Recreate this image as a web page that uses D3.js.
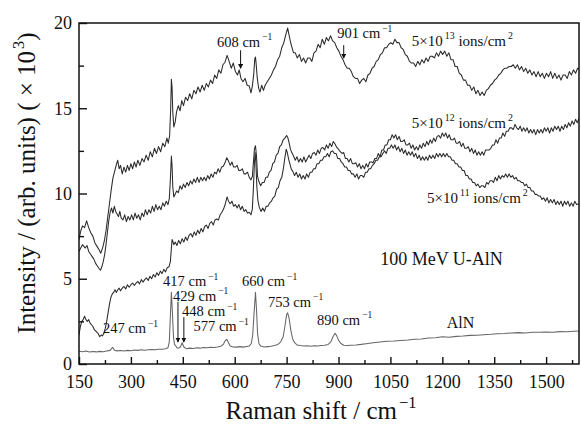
<!DOCTYPE html>
<html>
<head>
<meta charset="utf-8">
<script src="https://cdn.jsdelivr.net/npm/d3@7"></script>
<style>
  body { margin: 0; background: #fff; }
  svg text { font-family: "Liberation Serif", "Times New Roman", serif; fill: #111; }
</style>
</head>
<body>
<svg id="chart" width="581" height="426"></svg>
<script>
// Raman spectra, [wavenumber, intensity x10^3] pairs
let specAlN = [[150,0.75],[160,0.72],[170,0.76],[180,0.7],[190,0.73],[200,0.71],[210,0.74],[220,0.72],[230,0.76],[240,0.8],[247,0.98],[253,0.8],[260,0.77],[270,0.79],[280,0.76],[290,0.8],[300,0.78],[310,0.82],[320,0.8],[330,0.83],[340,0.81],[350,0.84],[360,0.85],[370,0.83],[380,0.86],[390,0.87],[400,0.9],[407,0.95],[411,1.3],[414,2.8],[417,4.2],[420,3.0],[423,1.6],[426,1.15],[429,1.08],[433,0.95],[438,0.93],[443,1.0],[448,1.25],[453,1.0],[460,0.9],[470,0.93],[480,0.91],[490,0.95],[500,0.93],[510,0.97],[520,0.95],[530,0.98],[540,0.97],[550,1.0],[560,1.04],[567,1.15],[572,1.35],[577,1.45],[582,1.25],[587,1.05],[595,1.0],[605,0.99],[615,1.02],[625,0.99],[635,1.03],[642,1.05],[648,1.2],[652,1.7],[656,3.0],[660,4.2],[663,3.2],[666,1.8],[670,1.2],[675,1.05],[685,1.0],[695,1.02],[705,1.04],[715,1.08],[725,1.15],[733,1.3],[740,1.6],[745,2.2],[750,2.9],[753,3.0],[757,2.7],[762,2.0],[767,1.5],[773,1.25],[780,1.12],[790,1.08],[800,1.05],[810,1.07],[820,1.04],[830,1.07],[840,1.05],[850,1.08],[860,1.1],[870,1.15],[878,1.3],[884,1.6],[890,1.8],[895,1.65],[900,1.4],[907,1.2],[915,1.1],[925,1.08],[935,1.1],[950,1.12],[965,1.15],[980,1.19],[1000,1.25],[1020,1.29],[1040,1.33],[1060,1.35],[1080,1.38],[1100,1.41],[1120,1.45],[1140,1.47],[1160,1.52],[1180,1.54],[1200,1.6],[1220,1.57],[1240,1.62],[1260,1.64],[1280,1.68],[1300,1.69],[1320,1.72],[1340,1.74],[1360,1.78],[1380,1.79],[1400,1.82],[1420,1.84],[1440,1.82],[1460,1.86],[1480,1.86],[1500,1.88],[1520,1.86],[1540,1.9],[1560,1.89],[1580,1.92],[1595,1.93]];

let spec5e11 = [[150,1.7],[154,2.2],[158,2.5],[162,2.6],[166,2.8],[170,2.6],[174,2.5],[178,2.6],[182,2.4],[186,2.3],[190,2.2],[195,2.0],[200,1.9],[205,1.8],[210,1.6],[214,1.7],[218,1.65],[222,1.8],[226,2.1],[230,2.5],[234,3.0],[238,3.5],[242,3.9],[246,4.1],[250,4.2],[254,4.35],[258,4.2],[262,4.35],[266,4.45],[270,4.3],[275,4.45],[280,4.55],[285,4.4],[290,4.65],[295,4.5],[300,4.65],[305,4.75],[310,4.6],[315,4.75],[320,4.85],[325,4.7],[330,4.95],[335,4.8],[340,4.95],[345,5.05],[350,4.9],[355,5.15],[360,5.0],[365,5.25],[370,5.1],[375,5.35],[380,5.2],[385,5.45],[390,5.3],[395,5.55],[400,5.4],[405,5.65],[410,5.7],[414,6.0],[417,6.8],[419,7.3],[421,7.2],[424,7.0],[428,7.15],[433,6.95],[438,7.25],[443,7.05],[448,7.35],[453,7.15],[458,7.45],[463,7.25],[468,7.55],[473,7.65],[478,7.45],[483,7.75],[488,7.55],[493,7.85],[498,7.65],[503,7.95],[508,7.75],[513,8.05],[518,8.15],[523,7.95],[528,8.25],[533,8.35],[538,8.15],[543,8.45],[548,8.5],[553,8.45],[558,8.75],[563,8.9],[568,9.1],[573,9.4],[578,9.8],[582,9.55],[587,9.4],[592,9.55],[597,9.25],[602,9.35],[607,9.15],[612,9.35],[617,9.05],[622,9.25],[627,8.95],[632,9.05],[637,8.85],[642,8.9],[647,8.75],[651,9.1],[654,10.3],[657,11.8],[659,12.4],[661,11.9],[664,10.4],[667,9.6],[671,9.2],[676,8.95],[681,9.15],[686,8.95],[691,9.25],[696,9.25],[701,9.45],[706,9.55],[711,9.75],[716,9.85],[721,10.25],[726,10.35],[731,10.75],[736,10.95],[741,11.5],[745,12.1],[749,12.6],[752,12.4],[756,12.0],[760,11.7],[764,11.4],[768,11.3],[773,11.05],[778,11.25],[783,10.95],[788,11.15],[793,10.85],[798,11.05],[803,10.85],[808,11.15],[813,10.95],[818,11.25],[823,11.25],[828,11.45],[833,11.45],[838,11.75],[843,11.75],[848,11.95],[853,11.95],[858,12.15],[863,12.15],[868,12.35],[873,12.15],[878,12.45],[883,12.5],[888,12.35],[893,12.35],[898,12.05],[903,12.05],[908,11.85],[913,11.75],[918,11.55],[923,11.55],[928,11.35],[933,11.35],[938,11.15],[943,11.15],[948,10.95],[953,11.15],[958,10.85],[963,11.05],[968,11.05],[973,10.95],[978,11.25],[983,11.25],[988,11.45],[993,11.45],[998,11.65],[1003,11.75],[1008,11.95],[1013,11.95],[1018,12.15],[1023,12.15],[1028,12.35],[1033,12.5],[1038,12.35],[1043,12.65],[1048,12.65],[1053,12.85],[1058,12.65],[1063,12.85],[1068,12.55],[1073,12.75],[1078,12.45],[1083,12.65],[1088,12.35],[1093,12.55],[1098,12.25],[1103,12.45],[1108,12.25],[1113,12.45],[1118,12.15],[1123,12.35],[1128,12.05],[1133,12.25],[1138,11.95],[1143,12.15],[1148,11.95],[1153,12.15],[1158,11.95],[1163,12.25],[1168,12.05],[1173,12.25],[1178,12.05],[1183,12.35],[1188,12.15],[1193,12.35],[1198,12.15],[1203,12.35],[1208,12.15],[1213,12.35],[1218,12.15],[1223,12.15],[1228,11.95],[1233,11.95],[1238,11.75],[1243,11.75],[1248,11.55],[1253,11.55],[1258,11.35],[1263,11.35],[1268,11.05],[1273,11.05],[1278,10.85],[1283,10.85],[1288,10.65],[1293,10.65],[1298,10.45],[1303,10.55],[1308,10.35],[1313,10.45],[1318,10.45],[1323,10.35],[1328,10.65],[1333,10.55],[1338,10.75],[1343,10.75],[1348,10.65],[1353,10.95],[1358,10.75],[1363,11.05],[1368,10.85],[1373,11.05],[1378,10.95],[1383,11.15],[1388,10.95],[1393,11.15],[1398,10.95],[1403,11.05],[1408,10.85],[1413,10.95],[1418,10.75],[1423,10.75],[1428,10.65],[1433,10.65],[1438,10.45],[1443,10.55],[1448,10.35],[1453,10.35],[1458,10.15],[1463,10.15],[1468,9.95],[1473,9.95],[1478,9.85],[1483,9.85],[1488,9.65],[1493,9.75],[1498,9.55],[1503,9.75],[1508,9.45],[1513,9.65],[1518,9.45],[1523,9.65],[1528,9.35],[1533,9.55],[1538,9.35],[1543,9.55],[1548,9.25],[1553,9.55],[1558,9.35],[1563,9.55],[1568,9.25],[1573,9.45],[1578,9.25],[1583,9.55],[1588,9.35],[1595,9.4]];

let spec5e12 = [[150,6.6],[155,6.8],[160,7.0],[164,6.9],[168,6.8],[173,6.95],[178,6.6],[183,6.45],[188,6.3],[193,6.15],[198,5.9],[203,5.75],[208,5.6],[212,5.5],[216,5.7],[220,6.0],[224,6.4],[228,7.0],[232,7.7],[236,8.4],[240,8.9],[244,9.15],[248,8.85],[252,9.25],[256,8.95],[260,8.8],[264,8.65],[268,8.95],[272,8.55],[277,8.45],[282,8.75],[287,8.35],[292,8.65],[297,8.45],[302,8.75],[307,8.45],[312,8.85],[317,8.55],[322,8.75],[327,8.45],[332,8.85],[337,8.65],[342,9.05],[347,8.75],[352,9.05],[357,8.85],[362,9.25],[367,8.95],[372,9.35],[377,9.05],[382,9.25],[387,9.05],[392,9.45],[397,9.25],[402,9.55],[407,9.35],[411,9.7],[414,10.8],[417,12.2],[419,11.6],[421,10.4],[424,9.8],[428,9.95],[432,10.15],[437,10.05],[442,10.45],[447,10.25],[452,10.55],[457,10.35],[462,10.65],[467,10.45],[472,10.75],[477,10.55],[482,10.85],[487,10.65],[492,10.95],[497,10.65],[502,10.95],[507,10.75],[512,10.95],[517,10.75],[522,11.05],[527,10.85],[532,11.15],[537,10.95],[542,11.25],[547,11.15],[552,11.45],[557,11.25],[562,11.55],[567,11.6],[572,11.8],[577,12.1],[582,11.9],[587,11.65],[592,11.85],[597,11.55],[602,11.55],[607,11.65],[612,11.35],[617,11.35],[622,11.45],[627,11.15],[632,11.15],[637,11.25],[642,10.95],[647,10.8],[651,11.0],[654,11.8],[657,12.6],[660,12.8],[663,12.2],[666,11.0],[670,10.7],[675,10.45],[680,10.65],[685,10.65],[690,10.95],[695,10.95],[700,11.25],[705,11.35],[710,11.75],[715,11.85],[720,12.25],[725,12.35],[730,12.75],[735,12.85],[740,13.15],[745,13.25],[750,13.4],[753,13.3],[757,13.0],[761,12.6],[765,12.4],[770,12.2],[775,11.95],[780,12.15],[785,11.85],[790,12.05],[795,11.85],[800,12.15],[805,11.85],[810,12.05],[815,12.25],[820,12.05],[825,12.35],[830,12.4],[835,12.25],[840,12.55],[845,12.35],[850,12.65],[855,12.7],[860,12.55],[865,12.85],[870,12.65],[875,12.95],[880,12.75],[885,13.05],[890,12.9],[895,12.7],[900,12.6],[905,12.45],[910,12.35],[915,12.4],[920,12.05],[925,12.05],[930,11.85],[935,12.05],[940,11.75],[945,11.75],[950,11.8],[955,11.55],[960,11.75],[965,11.45],[970,11.65],[975,11.45],[980,11.75],[985,11.55],[990,11.85],[995,11.85],[1000,11.8],[1005,12.05],[1010,12.05],[1015,12.35],[1020,12.15],[1025,12.55],[1030,12.55],[1035,12.85],[1040,12.85],[1045,13.15],[1050,13.15],[1055,13.45],[1060,13.25],[1065,13.45],[1070,13.15],[1075,13.35],[1080,13.05],[1085,13.05],[1090,13.15],[1095,12.85],[1100,12.85],[1105,12.95],[1110,12.65],[1115,12.85],[1120,12.55],[1125,12.75],[1130,12.55],[1135,12.85],[1140,12.65],[1145,12.95],[1150,12.75],[1155,13.05],[1160,12.85],[1165,13.15],[1170,12.95],[1175,13.25],[1180,13.05],[1185,13.35],[1190,13.4],[1195,13.25],[1200,13.55],[1205,13.35],[1210,13.55],[1215,13.25],[1220,13.45],[1225,13.15],[1230,13.15],[1235,13.25],[1240,12.95],[1245,12.95],[1250,13.05],[1255,12.75],[1260,12.95],[1265,12.65],[1270,12.65],[1275,12.75],[1280,12.45],[1285,12.65],[1290,12.35],[1295,12.55],[1300,12.25],[1305,12.45],[1310,12.25],[1315,12.45],[1320,12.25],[1325,12.55],[1330,12.55],[1335,12.55],[1340,12.65],[1345,12.85],[1350,12.85],[1355,13.15],[1360,12.95],[1365,13.25],[1370,13.25],[1375,13.55],[1380,13.35],[1385,13.65],[1390,13.65],[1395,13.85],[1400,13.85],[1405,13.75],[1410,14.05],[1415,13.85],[1420,13.75],[1425,13.95],[1430,13.65],[1435,13.85],[1440,13.65],[1445,13.85],[1450,13.55],[1455,13.75],[1460,13.55],[1465,13.75],[1470,13.45],[1475,13.75],[1480,13.55],[1485,13.75],[1490,13.55],[1495,13.85],[1500,13.65],[1505,13.85],[1510,13.55],[1515,13.85],[1520,13.65],[1525,13.95],[1530,13.75],[1535,13.95],[1540,13.65],[1545,13.95],[1550,13.75],[1555,14.05],[1560,13.85],[1565,14.15],[1570,13.95],[1575,14.25],[1580,14.05],[1585,14.35],[1590,14.15],[1595,14.4]];

let spec5e13 = [[150,7.3],[155,7.8],[160,8.1],[166,8.0],[172,8.4],[178,8.0],[184,7.7],[190,7.5],[196,7.1],[202,6.9],[208,6.7],[213,6.5],[218,6.8],[223,7.2],[228,7.8],[233,8.6],[238,9.4],[243,10.2],[248,10.9],[253,11.3],[258,11.7],[262,11.95],[266,11.45],[270,11.65],[275,11.15],[280,11.55],[285,11.25],[290,11.65],[295,11.35],[300,11.75],[305,11.45],[310,11.85],[315,11.55],[320,11.95],[326,11.65],[332,12.05],[338,11.85],[344,12.25],[350,11.95],[356,12.45],[362,12.15],[368,12.65],[374,12.35],[380,12.75],[386,12.45],[392,12.95],[398,12.75],[404,13.25],[408,12.95],[412,13.4],[415,15.0],[417,16.7],[419,16.2],[421,14.8],[424,13.9],[428,14.2],[432,14.8],[437,15.15],[442,14.85],[447,15.45],[452,15.15],[458,15.65],[464,15.45],[470,15.85],[476,15.55],[482,16.05],[488,15.85],[494,16.25],[500,15.95],[506,16.35],[512,16.05],[518,16.45],[524,16.25],[530,16.65],[536,16.45],[542,16.95],[548,16.75],[554,17.25],[560,17.05],[566,17.55],[572,17.7],[578,18.1],[584,17.75],[590,17.35],[596,17.65],[602,17.15],[608,16.95],[613,17.25],[618,16.75],[624,16.55],[630,16.75],[636,16.35],[642,16.3],[647,15.9],[651,16.3],[655,17.0],[658,17.9],[660,18.0],[662,17.6],[665,16.8],[669,16.2],[673,15.95],[678,16.35],[683,16.05],[688,16.35],[694,16.55],[700,16.75],[706,16.95],[712,17.25],[718,17.45],[724,17.85],[730,18.05],[736,18.55],[742,18.85],[748,19.35],[753,19.7],[757,19.3],[761,18.9],[765,18.6],[770,18.25],[775,18.25],[781,17.95],[787,18.15],[793,17.75],[799,17.95],[805,17.65],[811,17.95],[817,17.95],[823,17.75],[829,18.25],[835,18.35],[841,18.75],[847,18.55],[853,19.05],[859,18.75],[865,19.15],[871,18.95],[877,19.25],[883,18.95],[889,18.85],[895,18.55],[901,18.35],[907,18.05],[913,17.85],[919,17.55],[925,17.35],[931,17.35],[937,17.15],[943,16.85],[949,16.75],[955,16.75],[961,16.45],[967,16.65],[973,16.75],[979,16.55],[985,16.95],[991,17.05],[997,17.35],[1003,17.45],[1009,17.75],[1015,17.85],[1021,18.15],[1027,18.25],[1033,18.55],[1039,18.55],[1045,18.75],[1051,18.85],[1057,18.75],[1063,19.05],[1069,18.85],[1075,18.85],[1081,18.55],[1087,18.45],[1093,18.15],[1099,18.05],[1105,17.75],[1111,17.65],[1117,17.65],[1123,17.45],[1129,17.75],[1135,17.55],[1141,17.85],[1147,17.65],[1153,17.95],[1159,17.75],[1165,18.05],[1171,18.05],[1177,17.95],[1183,18.25],[1189,18.05],[1195,18.35],[1201,18.15],[1207,18.35],[1213,18.05],[1219,18.25],[1225,17.85],[1231,17.85],[1237,17.45],[1243,17.45],[1249,17.05],[1255,16.95],[1261,16.65],[1267,16.65],[1273,16.35],[1279,16.35],[1285,16.05],[1291,16.25],[1297,15.85],[1303,16.05],[1309,15.75],[1315,15.95],[1321,15.75],[1327,16.05],[1333,16.15],[1339,16.35],[1345,16.45],[1351,16.65],[1357,16.75],[1363,16.95],[1369,17.05],[1375,17.25],[1381,17.35],[1387,17.35],[1393,17.45],[1399,17.45],[1405,17.55],[1411,17.35],[1417,17.55],[1423,17.25],[1429,17.45],[1435,17.15],[1441,17.35],[1447,17.05],[1453,17.25],[1459,16.95],[1465,17.15],[1471,16.85],[1477,17.15],[1483,16.85],[1489,17.05],[1495,16.75],[1501,17.05],[1507,16.85],[1513,17.15],[1519,16.75],[1525,17.05],[1531,16.75],[1537,16.95],[1543,16.65],[1549,16.95],[1555,16.95],[1561,16.75],[1567,17.15],[1573,16.95],[1579,17.25],[1585,17.05],[1591,17.35],[1595,17.3]];

let xTicks = [150, 300, 450, 600, 750, 900, 1050, 1200, 1350, 1500];
let yTicks = [0, 5, 10, 15, 20];

// peak labels (wavenumber text) and fluence labels
let peakNames = ['417', '429', '448', '577', '247', '660', '753', '890', '608', '901'];
let fluenceNames = ['5\u00d710', '5\u00d710', '5\u00d710'];
let fluenceExps = ['13', '12', '11'];

let svg = d3.select('#chart');

// plot box
let margL = 79, margR = 2, margT = 23, margB = 62;
let width = 581, height = 426;

let xScale = d3.scaleLinear()
                .domain([150, 1595])
                .range([margL, width - margR]);
let yScale = d3.scaleLinear()
                .domain([0, 20])
                .range([height - margB, margT]);

// clip the spectra to the frame
svg.append('clipPath').attr('id', 'plotClip')
    .append('rect')
    .attr('x', margL).attr('y', margT)
    .attr('width', width - margR - margL)
    .attr('height', height - margB - margT);

let line = d3.line()
    .x(function(d){ return xScale(d[0]); })
    .y(function(d){ return yScale(d[1]); });

let curves = [
    {data: specAlN, color: '#666'},
    {data: spec5e11, color: '#2a2a2a'},
    {data: spec5e12, color: '#2a2a2a'},
    {data: spec5e13, color: '#2a2a2a'}
];

svg.append('g')
    .attr('clip-path', 'url(#plotClip)')
    .selectAll('path')
    .data(curves)
    .enter()
    .append('path')
    .attr('d', function(d){ return line(d.data); })
    .attr('fill', 'none')
    .attr('stroke', function(d){ return d.color; })
    .attr('stroke-width', 1.05)
    .attr('stroke-linejoin', 'round');

// axes - ticks point inward
let xAxis = svg.append('g')
    .attr('transform', 'translate(0,' + (height - margB) + ')')
    .call(d3.axisBottom(xScale).tickValues(xTicks).tickSize(-7).tickPadding(11).tickFormat(d3.format('d')));
let xMinor = svg.append('g')
    .attr('transform', 'translate(0,' + (height - margB) + ')')
    .call(d3.axisBottom(xScale).tickValues(d3.range(225, 1595, 150)).tickSize(-4).tickFormat(''));
let yAxis = svg.append('g')
    .attr('transform', 'translate(' + margL + ',0)')
    .call(d3.axisLeft(yScale).tickValues(yTicks).tickSize(-8).tickPadding(7));
let yMinor = svg.append('g')
    .attr('transform', 'translate(' + margL + ',0)')
    .call(d3.axisLeft(yScale).tickValues([2.5, 7.5, 12.5, 17.5]).tickSize(-5).tickFormat(''));

[xAxis, xMinor, yAxis, yMinor].forEach(function(a){
    a.selectAll('path').remove();
    a.selectAll('line').attr('stroke', '#111').attr('stroke-width', 1.4);
    a.selectAll('text').attr('font-size', 18).attr('fill', '#111')
        .attr('font-family', '"Liberation Serif", serif');
});

// frame
svg.append('rect')
    .attr('x', margL).attr('y', margT)
    .attr('width', width - margR - margL)
    .attr('height', height - margB - margT)
    .attr('fill', 'none')
    .attr('stroke', '#111')
    .attr('stroke-width', 1.5);

// text with superscripts: parts = [[text, isSup], ...]
function addText(x, y, parts, size, anchor){
    let t = svg.append('text')
        .attr('x', x).attr('y', y)
        .attr('font-size', size)
        .attr('text-anchor', anchor || 'start');
    let up = false;
    parts.forEach(function(p){
        let s = t.append('tspan').text(p[0]);
        if (p[1] && !up) { s.attr('dy', -size * 0.45).attr('dx', 2).attr('font-size', size * 0.66); up = true; }
        else if (!p[1] && up) { s.attr('dy', size * 0.45); up = false; }
        else if (p[1]) { s.attr('font-size', size * 0.66); }
    });
    return t;
}

// peak annotation spots (data coords)
let peakSpots = [[393, 4.57], [422, 3.7], [448, 2.8], [481, 1.93], [219, 1.8], [621, 4.57], [696, 3.35], [838, 2.3], [549, 18.6], [896, 19.1]];
peakNames.forEach(function(n, i){
    addText(xScale(peakSpots[i][0]), yScale(peakSpots[i][1]), [[n + ' cm', false], ['\u22121', true]], 14.5);
});

// arrows
svg.append('defs').append('marker')
    .attr('id', 'arrowHead')
    .attr('viewBox', '0 0 6 6')
    .attr('refX', 5).attr('refY', 3)
    .attr('markerWidth', 5).attr('markerHeight', 5)
    .attr('orient', 'auto')
    .append('path').attr('d', 'M0,0 L6,3 L0,6 Z').attr('fill', '#111');

let arrowSpots = [[436, 3.65, 1.3], [453, 2.75, 1.3], [617, 18.4, 17.35], [915, 18.7, 17.95]];
svg.selectAll('.arrow')
    .data(arrowSpots)
    .enter()
    .append('line')
    .attr('class', 'arrow')
    .attr('x1', function(d){ return xScale(d[0]); })
    .attr('x2', function(d){ return xScale(d[0]); })
    .attr('y1', function(d){ return yScale(d[1]); })
    .attr('y2', function(d){ return yScale(d[2]); })
    .attr('stroke', '#111')
    .attr('stroke-width', 1)
    .attr('marker-end', 'url(#arrowHead)');

// fluence labels
let fluenceSpots = [[1112, 18.65], [1112, 13.85], [1156, 9.45]];
fluenceNames.forEach(function(n, i){
    addText(xScale(fluenceSpots[i][0]), yScale(fluenceSpots[i][1]),
        [[n, false], [fluenceExps[i], true], [' ions/cm', false], ['2', true]], 15);
});

addText(xScale(1375), yScale(5.8), [['100 MeV U-AlN', false]], 18, 'end');
addText(xScale(1213), yScale(2.1), [['AlN', false]], 16);

// axis titles
addText(321, 419, [['Raman shift / cm', false], ['\u22121', true]], 25, 'middle');
addText(0, 0, [['Intensity / (arb. units) ( \u00d7 10', false], ['3', true], [')', false]], 25, 'middle')
    .attr('transform', 'translate(35,183) rotate(-90)');
</script>
</body>
</html>
